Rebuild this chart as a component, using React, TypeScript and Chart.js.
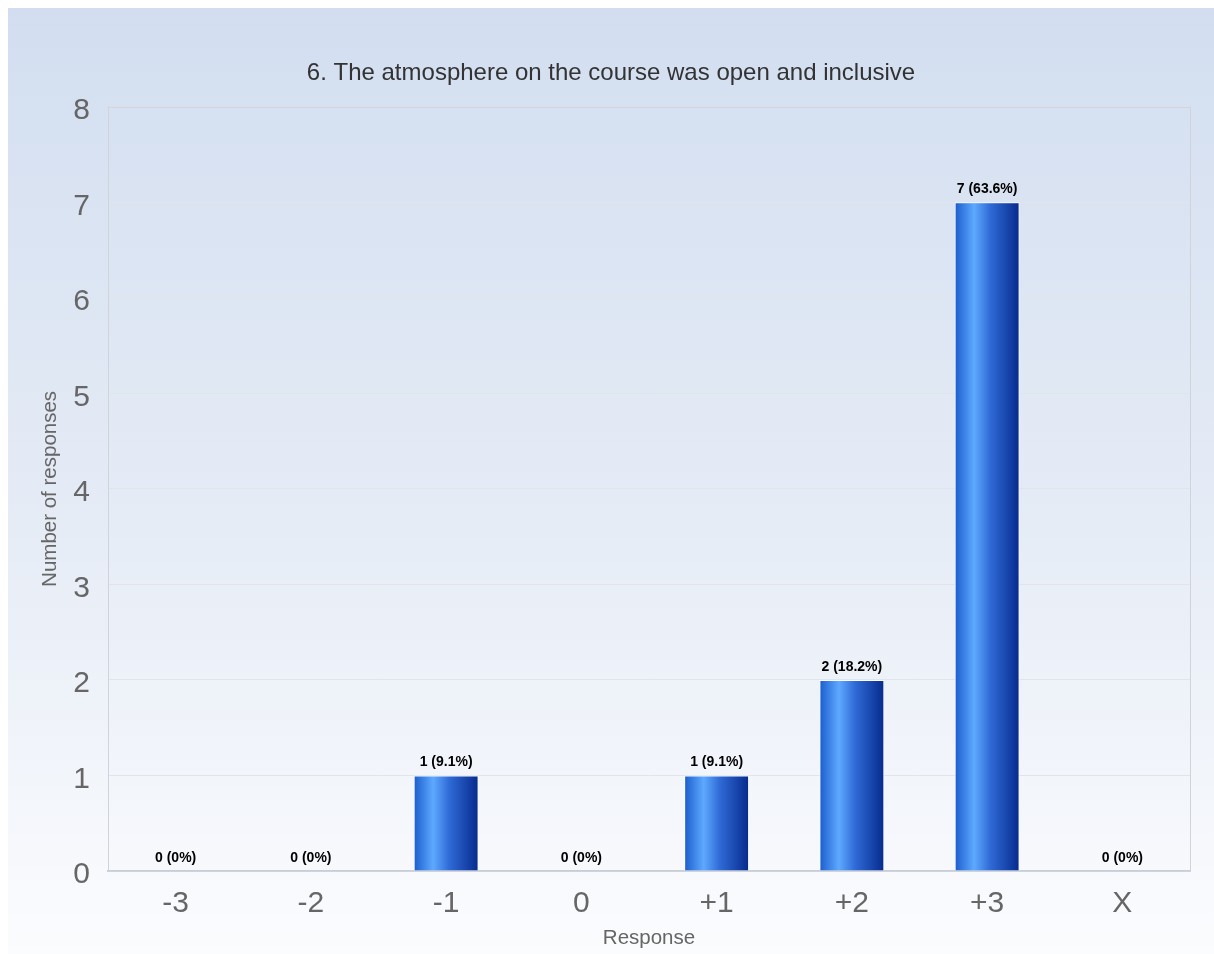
import React, { useEffect, useRef } from "react";
import { Chart, registerables } from "chart.js";

Chart.register(...registerables);

const TITLE = "6. The atmosphere on the course was open and inclusive";
const CATEGORIES = ["-3", "-2", "-1", "0", "+1", "+2", "+3", "X"];
const COUNTS = [0, 0, 1, 0, 1, 2, 7, 0];
const Y_TICKS = [0, 1, 2, 3, 4, 5, 6, 7, 8];
const X_TITLE = "Response";
const Y_TITLE = "Number of responses";

const FONT = '"Liberation Sans", Arial, Helvetica, sans-serif';
const BAR_PCT = 0.48;

const total = COUNTS.reduce((a, b) => a + b, 0);
const LABEL_TEXT = COUNTS.map((v) => `${v} (${Math.round((v / total) * 1000) / 10}%)`);

const W = 1206;
const H = 946;

export default function App() {
  const ref = useRef<HTMLCanvasElement | null>(null);

  useEffect(() => {
    document.documentElement.style.overflow = "hidden";
    document.body.style.overflow = "hidden";
    const canvas = ref.current;
    if (!canvas) return;

    const bgPlugin = {
      id: "bg",
      beforeDraw(chart: any) {
        const { ctx, width, height } = chart;
        const g = ctx.createLinearGradient(0, 0, 0, height);
        g.addColorStop(0, "#d2def0");
        g.addColorStop(0.55, "#e6ecf6");
        g.addColorStop(1, "#fbfcfe");
        ctx.save();
        ctx.fillStyle = g;
        ctx.fillRect(0, 0, width, height);
        ctx.restore();
      },
      beforeDatasetsDraw(chart: any) {
        const { ctx, chartArea } = chart;
        ctx.save();
        ctx.strokeStyle = "#cfd3da";
        ctx.lineWidth = 1;
        ctx.strokeRect(chartArea.left + 0.5, chartArea.top + 0.5, chartArea.right - chartArea.left, chartArea.bottom - chartArea.top);
        ctx.restore();
      },
      afterDatasetsDraw(chart: any) {
        const { ctx } = chart;
        const meta = chart.getDatasetMeta(0);
        ctx.save();
        ctx.font = `bold 14px ${FONT}`;
        ctx.fillStyle = "#000";
        ctx.textAlign = "center";
        ctx.textBaseline = "middle";
        meta.data.forEach((bar: any, i: number) => {
          ctx.fillText(LABEL_TEXT[i], bar.x, bar.y - 13);
        });
        ctx.restore();
      },
    };

    const chart = new Chart(canvas, {
      type: "bar",
      data: {
        labels: CATEGORIES,
        datasets: [
          {
            data: COUNTS,
            backgroundColor: (c: any) => {
              const ch = c.chart;
              const xs = ch.scales && ch.scales.x;
              if (!xs || c.dataIndex === undefined || !ch.chartArea) return "#2f6fd8";
              const cx = xs.getPixelForValue(c.dataIndex);
              const half = (xs.width / CATEGORIES.length) * BAR_PCT / 2;
              const g = ch.ctx.createLinearGradient(cx - half, 0, cx + half, 0);
              g.addColorStop(0, "#1a5ccc");
              g.addColorStop(0.3, "#5ea9ff");
              g.addColorStop(0.55, "#2f6ad6");
              g.addColorStop(1, "#062a8c");
              return g;
            },
            borderColor: "rgba(255,255,255,0.85)",
            borderWidth: 1,
            categoryPercentage: 1,
            barPercentage: BAR_PCT,
          },
        ],
      },
      options: {
        responsive: false,
        animation: false,
        layout: { padding: { left: 12, right: 12, top: 0, bottom: 0 } },
        plugins: {
          legend: { display: false },
          tooltip: { enabled: false },
          title: {
            display: true,
            text: TITLE,
            color: "#333333",
            font: { family: FONT, size: 24, weight: "normal" },
            padding: { top: 51, bottom: 19 },
          },
        },
        scales: {
          x: {
            grid: { display: false },
            border: { display: true, color: "#c6cede", width: 2 },
            ticks: {
              color: "#666666",
              font: { family: FONT, size: 30 },
              padding: 7,
            },
            title: {
              display: true,
              text: X_TITLE,
              color: "#666666",
              font: { family: FONT, size: 20.5 },
              padding: { top: 0, bottom: 3 },
            },
            afterFit: (axis: any) => {
              axis.height = 83;
            },
          },
          y: {
            min: 0,
            max: 8,
            afterBuildTicks: (axis: any) => {
              axis.ticks = Y_TICKS.map((v) => ({ value: v }));
            },
            grid: { color: "#e1e4ea", drawTicks: false },
            border: { display: true, color: "#cfd3da" },
            ticks: {
              color: "#666666",
              font: { family: FONT, size: 30 },
              padding: 18,
              labelOffset: 4,
            },
            title: {
              display: true,
              text: Y_TITLE,
              color: "#666666",
              font: { family: FONT, size: 20.5 },
              padding: { top: 18, bottom: 0 },
            },
            afterFit: (axis: any) => {
              axis.width = 88;
            },
          },
          yRight: {
            type: "linear",
            position: "right",
            display: true,
            grid: { display: false, drawTicks: false },
            border: { display: false },
            ticks: { display: false },
            title: { display: false },
            afterFit: (axis: any) => {
              axis.width = 12;
            },
          },
        },
      },
      plugins: [bgPlugin],
    } as any);

    return () => chart.destroy();
  }, []);

  return (
    <div
      style={{
        position: "absolute",
        left: 8,
        top: 8,
        width: W,
        height: H,
        background: "linear-gradient(#d2def0, #e6ecf6 55%, #fbfcfe)",
      }}
    >
      <canvas ref={ref} width={W} height={H} style={{ display: "block", width: W, height: H }} />
    </div>
  );
}
